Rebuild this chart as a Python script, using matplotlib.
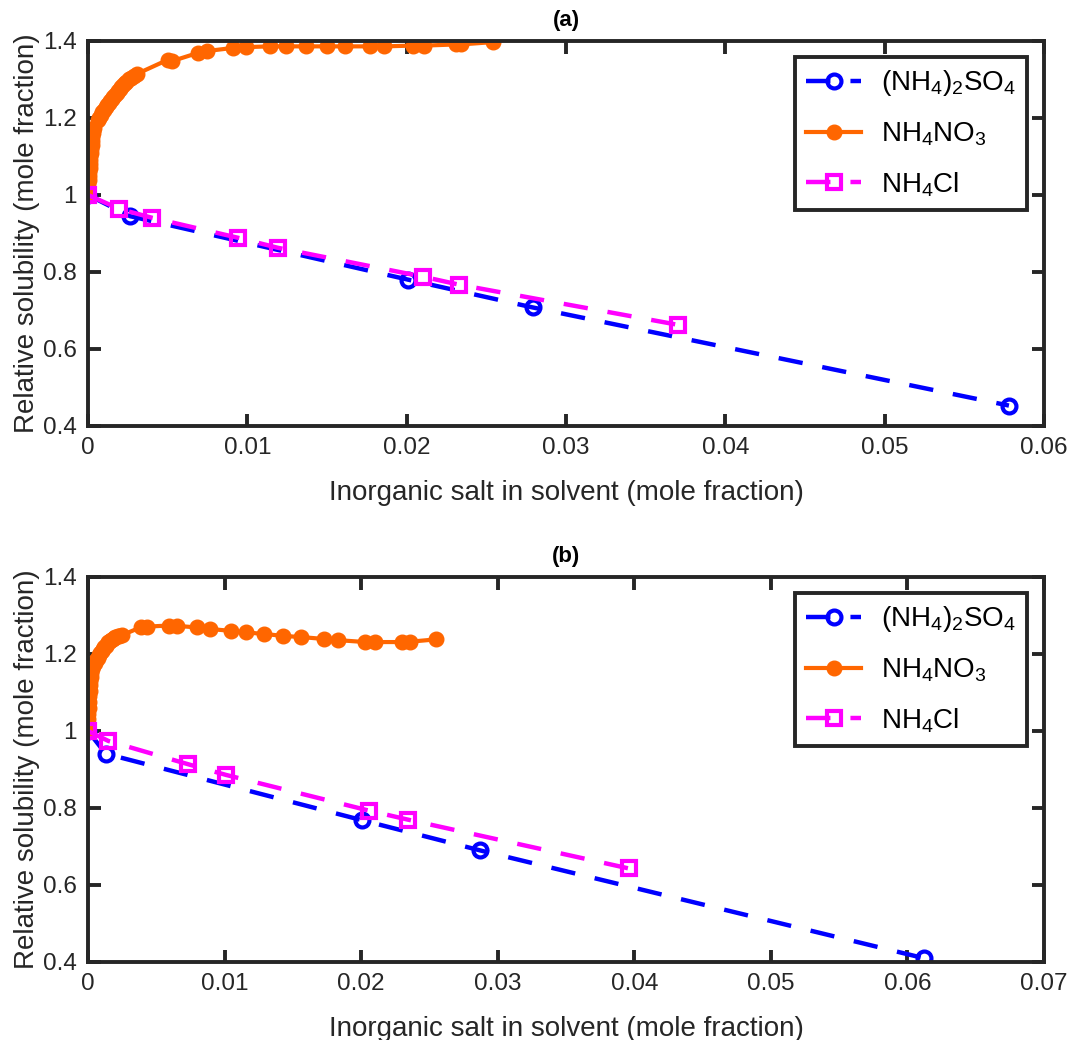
import numpy as np
import matplotlib.pyplot as plt

plt.rcParams["font.family"] = ["Liberation Sans", "DejaVu Sans"]
plt.rcParams["mathtext.fontset"] = "custom"
plt.rcParams["mathtext.rm"] = "Liberation Sans"
plt.rcParams["mathtext.it"] = "Liberation Sans:italic"
plt.rcParams["mathtext.bf"] = "Liberation Sans:bold"

# ---------------- panel (a) ----------------
a_sulf_x = [0.0, 0.00264, 0.0201, 0.0279, 0.0578]
a_sulf_y = [1.0, 0.945, 0.780, 0.708, 0.453]

a_nitr_x = [0.0, 0.00001, 0.00002, 0.00003, 0.00005, 0.00006, 0.00008, 0.0001,
            0.00011, 0.00013, 0.00015, 0.00018, 0.0002, 0.00023, 0.00025,
            0.00028, 0.0003, 0.00033, 0.00035, 0.0006, 0.0007, 0.0008, 0.0009,
            0.001, 0.0011, 0.0012, 0.0013, 0.0014, 0.0015, 0.0016, 0.0017,
            0.0018, 0.0019, 0.002, 0.0021, 0.0022, 0.0023, 0.0024, 0.0026,
            0.0027, 0.0029, 0.0031, 0.0050, 0.0053,
            0.0069, 0.0075, 0.0091, 0.0099, 0.0114, 0.0124, 0.0137, 0.0150,
            0.0161, 0.0177, 0.0186, 0.0204, 0.0211, 0.0231, 0.0234, 0.0254]
a_nitr_y = [1.0, 1.01, 1.02, 1.03, 1.04, 1.05, 1.06, 1.07,
            1.08, 1.09, 1.10, 1.11, 1.12, 1.13, 1.14,
            1.15, 1.16, 1.17, 1.175, 1.195, 1.20, 1.208, 1.215,
            1.222, 1.228, 1.234, 1.24, 1.245, 1.25, 1.255, 1.26,
            1.265, 1.27, 1.275, 1.28, 1.285, 1.29, 1.294, 1.30,
            1.305, 1.31, 1.315, 1.351, 1.348,
            1.369, 1.374, 1.382, 1.384, 1.386, 1.386, 1.386, 1.386,
            1.386, 1.386, 1.386, 1.388, 1.388, 1.391, 1.391, 1.397]

a_chl_x = [0.0, 0.00195, 0.0040, 0.0094, 0.0119, 0.0210, 0.0233, 0.0370]
a_chl_y = [1.0, 0.964, 0.941, 0.889, 0.863, 0.788, 0.767, 0.663]

# ---------------- panel (b) ----------------
b_sulf_x = [0.0, 0.0013, 0.0201, 0.0287, 0.0612]
b_sulf_y = [1.0, 0.941, 0.768, 0.690, 0.410]

b_nitr_x = [0.0, 0.00001, 0.00002, 0.00003, 0.00005, 0.00007, 0.0001, 0.00012,
            0.00015, 0.00018, 0.0002, 0.00025, 0.0003, 0.0004, 0.0005, 0.0006,
            0.0007, 0.0008, 0.0009, 0.001, 0.0011, 0.0012, 0.0013, 0.0014,
            0.0015, 0.0016, 0.0017, 0.0018, 0.0019, 0.002, 0.0022, 0.0023,
            0.0025, 0.0039, 0.0043, 0.0059, 0.0065, 0.0080, 0.0089, 0.0105,
            0.0116, 0.0129, 0.0143, 0.0156, 0.0173, 0.0183, 0.0203, 0.0210,
            0.0230, 0.0236, 0.0255]
b_nitr_y = [1.0, 1.015, 1.03, 1.045, 1.06, 1.075, 1.09, 1.105,
            1.12, 1.13, 1.14, 1.15, 1.16, 1.17, 1.177, 1.184,
            1.19, 1.197, 1.203, 1.208, 1.213, 1.218, 1.222, 1.226,
            1.23, 1.233, 1.236, 1.239, 1.241, 1.243, 1.246, 1.247,
            1.249, 1.270, 1.271, 1.274, 1.273, 1.269, 1.265, 1.260,
            1.256, 1.252, 1.247, 1.244, 1.239, 1.236, 1.231, 1.231,
            1.231, 1.232, 1.238]

b_chl_x = [0.0, 0.0015, 0.0073, 0.0101, 0.0206, 0.0234, 0.0396]
b_chl_y = [1.0, 0.974, 0.914, 0.886, 0.793, 0.770, 0.643]

labels = [r"(NH$_4$)$_2$SO$_4$", r"NH$_4$NO$_3$", r"NH$_4$Cl"]
y_ticks = [0.4, 0.6, 0.8, 1.0, 1.2, 1.4]
y_ticklabels = ["0.4", "0.6", "0.8", "1", "1.2", "1.4"]

BLUE = "#0000FF"
ORANGE = "#FF6600"
MAGENTA = "#FF00FF"
AXCOL = "#262626"
DASH = (0, (5.5, 4.5))


def draw_panel(ax, sx, sy, nx, ny, cx, cy, xmax, title):
    ax.plot(sx, sy, linestyle=DASH, color=BLUE, lw=3.2, marker="o", ms=10,
            mfc="none", mec=BLUE, mew=3.0, label=labels[0])
    ax.plot(nx, ny, "-", color=ORANGE, lw=3.0, marker="o", ms=10.5,
            mfc=ORANGE, mec=ORANGE, label=labels[1])
    ax.plot(cx, cy, linestyle=DASH, color=MAGENTA, lw=3.2, marker="s", ms=10,
            mfc="none", mec=MAGENTA, mew=3.0, label=labels[2])

    ax.set_xlim(0, xmax)
    ax.set_ylim(0.4, 1.4)
    xt = np.round(np.arange(0, xmax + 1e-9, 0.01), 2)
    ax.set_xticks(xt)
    ax.set_xticklabels(["0"] + [f"{v:.2f}" for v in xt[1:]])
    ax.set_yticks(y_ticks)
    ax.set_yticklabels(y_ticklabels)

    for sp in ax.spines.values():
        sp.set_linewidth(2.8)
        sp.set_color(AXCOL)
    ax.tick_params(direction="in", length=9, width=2.8, color=AXCOL,
                   top=True, right=True, labelsize=17.5, labelcolor=AXCOL, pad=8)

    ax.set_xlabel("Inorganic salt in solvent (mole fraction)", fontsize=20,
                  color=AXCOL, labelpad=15)
    ax.set_ylabel("Relative solubility (mole fraction)", fontsize=20,
                  color=AXCOL, labelpad=2)
    ax.set_title(title, fontsize=16, fontweight="bold", pad=11)

    leg = ax.legend(loc="upper right", bbox_to_anchor=(0.982, 0.958),
                    fontsize=20, frameon=True, fancybox=False, borderpad=0.4,
                    handlelength=2.0, handletextpad=0.7, labelspacing=0.8,
                    borderaxespad=0, framealpha=1)
    leg.get_frame().set_edgecolor(AXCOL)
    leg.get_frame().set_linewidth(2.8)


fig = plt.figure(figsize=(10.69, 10.40), dpi=100)
ax1 = fig.add_axes([0.0823, 0.5904, 0.8943, 0.3702])
ax2 = fig.add_axes([0.0823, 0.0750, 0.8943, 0.3702])

draw_panel(ax1, a_sulf_x, a_sulf_y, a_nitr_x, a_nitr_y, a_chl_x, a_chl_y, 0.06, "(a)")
draw_panel(ax2, b_sulf_x, b_sulf_y, b_nitr_x, b_nitr_y, b_chl_x, b_chl_y, 0.07, "(b)")

fig.savefig("out.png", dpi=100)
